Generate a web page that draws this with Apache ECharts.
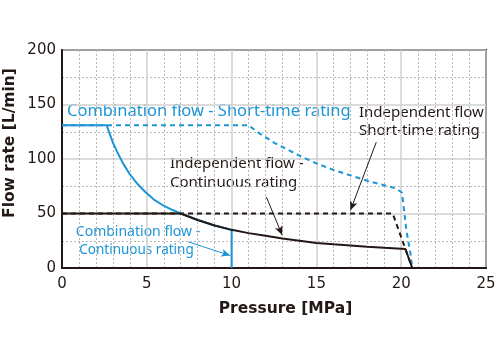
<!DOCTYPE html>
<html><head><meta charset="utf-8">
<script src="https://cdn.jsdelivr.net/npm/echarts@6/dist/echarts.min.js"></script>
<style>html,body{margin:0;padding:0;background:#fff}#c{width:501px;height:356px}</style>
</head><body><div id="c"></div>
<script>
// Data (Pressure MPa, Flow L/min)
const combShortTime = [[0,131],[11.0,131],[11.5,125],[12,120],[12.5,115],[13,111],[14,103],[15,96],[16,90],[17,85],[18,80],[19,76],[19.7,73],[20.05,69],[20.3,35],[20.55,13],[20.65,0]];
const indepShortTime = [[0,50],[19.5,50],[20.25,17.4],[20.65,0]];
const combContinuous = [[0,131],[2.63,131],[3.0,115],[3.3,105],[3.6,96],[4.0,86],[4.4,78],[4.9,70],[5.4,63],[5.9,58],[6.4,54],[7.0,50],[7.5,47],[8,44],[8.5,41.5],[9,39],[10,35],[10,0]];
const indepContinuous = [[0,50],[7.0,50],[7.5,47],[8,44],[8.5,41.5],[9,39],[10,35],[11,32],[12,29.5],[13,27],[14,25],[15,23],[16,21.7],[17,20.6],[18,19.5],[19,18.5],[20.25,17.4],[20.65,0]];
// annotation arrows (data coords): [start, end]
const arrowsBlack = [[[18.53,115.4],[17.01,53.0]], [[12.05,65.2],[12.98,30.2]]];
const arrowsBlue = [[[7.44,24.0],[9.92,11.4]]];
const xTicks = [0,5,10,15,20,25];
const yTicks = [0,50,100,150,200];

const BLUE = '#1b95d6', DARK = '#231815';
const chart = echarts.init(document.getElementById('c'), null, {renderer:'canvas'});
function arrowSeries(list, color){
  return {type:'line', data:[], silent:true,
    markLine:{silent:true, animation:false, symbol:['none','arrow'], symbolSize:[6,9],
      label:{show:false}, lineStyle:{color:color, width:1, type:'solid'},
      emphasis:{disabled:true},
      data:list.map(a=>[{coord:a[0]},{coord:a[1]}])}};
}
const option = {
  animation:false,
  grid:{left:62, right:15, top:50, bottom:88, show:true, borderColor:DARK, borderWidth:2, backgroundColor:'transparent'},
  xAxis:{type:'value', min:xTicks[0], max:xTicks[xTicks.length-1], interval:5,
    axisLine:{show:true, lineStyle:{color:DARK, width:2}}, axisTick:{show:false},
    axisLabel:{color:DARK, fontFamily:'DejaVu Sans', fontSize:15, margin:9},
    splitLine:{show:true, lineStyle:{color:'#cfcfcf', width:1.5}},
    minorTick:{show:false, splitNumber:5},
    minorSplitLine:{show:true, lineStyle:{color:'#b8b8b8', width:1, type:[2,2]}}},
  yAxis:{type:'value', min:yTicks[0], max:yTicks[yTicks.length-1], interval:50,
    axisLine:{show:true, lineStyle:{color:DARK, width:2}}, axisTick:{show:false},
    axisLabel:{color:DARK, fontFamily:'DejaVu Sans', fontSize:15, margin:6},
    splitLine:{show:true, lineStyle:{color:'#cfcfcf', width:1.5}},
    minorTick:{show:false, splitNumber:2},
    minorSplitLine:{show:true, lineStyle:{color:'#b8b8b8', width:1, type:[2,2]}}},
  series:[
    {name:'Combination flow - Short-time rating', type:'line', data:combShortTime, showSymbol:false, symbol:'none',
      lineStyle:{color:BLUE, width:2, type:[5,4]}, z:2},
    {name:'Independent flow - Short-time rating', type:'line', data:indepShortTime, showSymbol:false, symbol:'none',
      lineStyle:{color:DARK, width:2, type:[5,4]}, z:3},
    {name:'Combination flow - Continuous rating', type:'line', data:combContinuous, showSymbol:false, symbol:'none',
      lineStyle:{color:BLUE, width:2}, z:4},
    {name:'Independent flow - Continuous rating', type:'line', data:indepContinuous, showSymbol:false, symbol:'none',
      lineStyle:{color:DARK, width:2}, z:5},
    arrowSeries(arrowsBlack, DARK),
    arrowSeries(arrowsBlue, BLUE)
  ],
  graphic:[
    {type:'text', left:null, x:285.5, y:309, style:{text:'Pressure [MPa]', fill:DARK, font:'bold 15.5px "DejaVu Sans"', textAlign:'center', textVerticalAlign:'middle', align:'center', verticalAlign:'middle'}},
    {type:'text', x:10, y:143, rotation:Math.PI/2, style:{text:'Flow rate [L/min]', fill:DARK, font:'bold 15.5px "DejaVu Sans"', textAlign:'center', textVerticalAlign:'middle', align:'center', verticalAlign:'middle'}},
    {type:'text', x:67, y:111, style:{text:'Combination flow - Short-time rating', fill:BLUE, font:'16.5px "Noto Sans"', textAlign:'left', textVerticalAlign:'middle', align:'left', verticalAlign:'middle'}},
    {type:'text', x:359, y:112.5, style:{text:'Independent flow', fill:DARK, font:'15px "Noto Sans"', textAlign:'left', textVerticalAlign:'middle', align:'left', verticalAlign:'middle'}},
    {type:'text', x:359, y:131, style:{text:'Short-time rating', fill:DARK, font:'15px "Noto Sans"', textAlign:'left', textVerticalAlign:'middle', align:'left', verticalAlign:'middle'}},
    {type:'text', x:170, y:163.5, style:{text:'Independent flow -', fill:DARK, font:'15px "Noto Sans"', textAlign:'left', textVerticalAlign:'middle', align:'left', verticalAlign:'middle'}},
    {type:'text', x:170, y:182.5, style:{text:'Continuous rating', fill:DARK, font:'15px "Noto Sans"', textAlign:'left', textVerticalAlign:'middle', align:'left', verticalAlign:'middle'}},
    {type:'text', x:138, y:232.5, style:{text:'Combination flow -', fill:BLUE, font:'14px "Noto Sans"', textAlign:'center', textVerticalAlign:'middle', align:'center', verticalAlign:'middle'}},
    {type:'text', x:136.5, y:250, style:{text:'Continuous rating', fill:BLUE, font:'13.5px "Noto Sans"', textAlign:'center', textVerticalAlign:'middle', align:'center', verticalAlign:'middle'}}
  ]
};
chart.setOption(option);
</script></body></html>
